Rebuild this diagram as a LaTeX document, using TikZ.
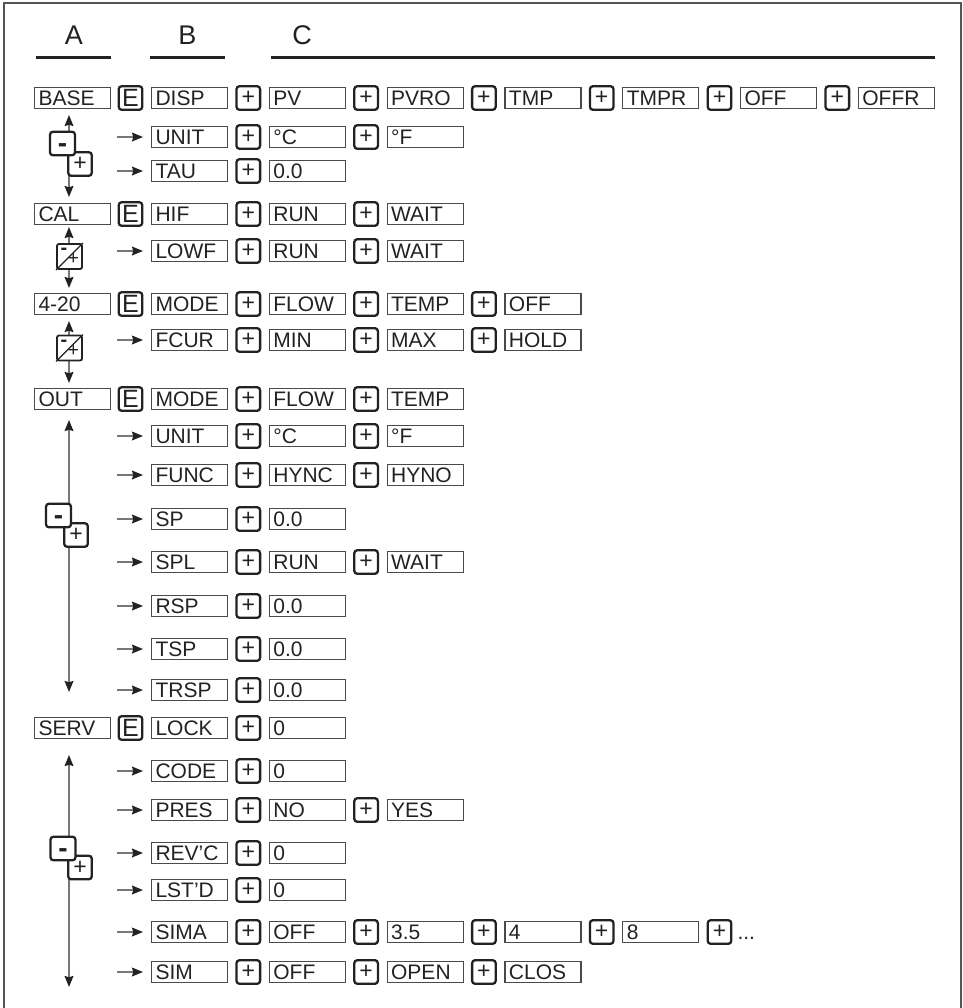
\documentclass[tikz,border=0pt]{standalone}
\usepackage{fontspec}
\setmainfont{Liberation Sans}
\usetikzlibrary{arrows.meta}

\definecolor{inkgray}{HTML}{222222}
\definecolor{framegray}{HTML}{555555}
\definecolor{boxgray}{HTML}{4A4A4A}
\definecolor{wiregray}{HTML}{777777}

\tikzset{
  valbox/.style={draw=boxgray, line width=0.55pt, anchor=west, text width=34pt, align=left,
    inner xsep=2pt, inner ysep=1.5pt, text height=7.5pt, text depth=0pt,
    font=\fontsize{10.5pt}{12pt}\selectfont, text=inkgray},
  pluskey/.style={draw=inkgray, line width=1.15pt, rounded corners=1.5pt, fill=white,
    minimum width=11.8pt, minimum height=11.8pt, inner sep=0pt,
    font=\fontsize{11.5pt}{12pt}\selectfont, text=inkgray},
  ekey/.style={pluskey, font=\fontsize{12.5pt}{12pt}\selectfont},
  minuskey/.style={pluskey, minimum width=12.5pt, text height=8.5pt, text depth=0pt,
    font=\fontsize{14pt}{14pt}\selectfont\bfseries},
  diagkey/.style={draw=inkgray, line width=0.9pt, rounded corners=1pt, fill=white,
    minimum size=12.5pt, inner sep=0pt},
  signtext/.style={inner sep=0pt, text=inkgray},
  tip/.tip={Stealth[length=5.5pt, width=4.4pt, inset=0.6pt, color=inkgray]},
  subarrow/.style={draw=wiregray, line width=0.75pt, -tip},
  navline/.style={draw=wiregray, line width=0.75pt, tip-tip},
  headline/.style={draw=inkgray, line width=1.5pt},
  headtext/.style={font=\fontsize{13.5pt}{14pt}\selectfont, text=inkgray}
}

% boxes of one row, with a plus key between two boxes
\newcommand{\menuitems}[3]{%
  \foreach \txt [count=\i from 0] in {#3} {
    \node[valbox] (#1-\i) at ({151+117.8*\i},#2) {\txt};
    \ifnum\i>0 \node[pluskey] (#1-k\i) at ({130.5+117.8*\i},#2) {+}; \fi
  }
}
% main menu row: menu box, E key, items
\newcommand{\mainrow}[4]{%
  \node[valbox] (#1) at (34,#3) {#2};
  \node[ekey] (#1-e) at (130.5,#3) {E};
  \menuitems{#1}{#3}{#4}
}
% sub row: arrow, items
\newcommand{\subrow}[3]{%
  \coordinate (#1-s) at (117,#2);
  \menuitems{#1}{#2}{#3}
  \draw[subarrow] (#1-s) -- ([xshift=-4pt]#1-0.west);
}

\begin{document}
\begin{tikzpicture}[x=0.5pt, y=-0.5pt]
  \useasboundingbox (0,0) rectangle (963,1008);

  % frame
  \draw[framegray, line width=1pt] (4,1008) -- (4,3) -- (961,3) -- (961,1008);

  % column heads
  \node[headtext] (hA) at (74,35) {A};
  \node[headtext] (hB) at (187.5,35) {B};
  \node[headtext] (hC) at (302,35) {C};
  \draw[headline] (36,57) -- (111,57);
  \draw[headline] (150,57) -- (225,57);
  \draw[headline] (271,57) -- (935,57);

  % up/down lines in column A
  \coordinate (nav1a) at (69,115);  \coordinate (nav1b) at (69,197);
  \coordinate (nav2a) at (69,227);  \coordinate (nav2b) at (69,288);
  \coordinate (nav3a) at (69,321);  \coordinate (nav3b) at (69,383);
  \coordinate (nav4a) at (69,420);  \coordinate (nav4b) at (69,692);
  \coordinate (nav5a) at (69,755);  \coordinate (nav5b) at (69,987);
  \foreach \n in {1,...,5}
    \draw[navline] (nav\n a) -- (nav\n b);

  % minus/plus keys
  \node[pluskey] (basep) at (80,164) {+};
  \node[minuskey] (basem) at (62.5,143.5) {-};
  \node[pluskey] (outp) at (76,535) {+};
  \node[minuskey] (outm) at (58.5,515.5) {-};
  \node[pluskey] (servp) at (80,867.5) {+};
  \node[minuskey] (servm) at (63,848.5) {-};

  % combined keys
  \foreach \k/\y in {calsw/256.5, cursw/348} {
    \node[diagkey] (\k) at (69.5,\y) {};
    \draw[inkgray, line width=0.7pt] (\k.south west) -- (\k.north east);
    \node[signtext, font=\fontsize{10pt}{10pt}\selectfont\bfseries] at ([shift={(-5.5,-5)}]\k.center) {-};
    \node[signtext, font=\fontsize{9.5pt}{10pt}\selectfont] at ([shift={(4,3)}]\k.center) {+};
  }

  % BASE
  \mainrow{base}{BASE}{98}{DISP,PV,PVRO,TMP,TMPR,OFF,OFFR}
  \subrow{bunit}{137}{UNIT,°C,°F}
  \subrow{tau}{171}{TAU,0.0}

  % CAL
  \mainrow{cal}{CAL}{214}{HIF,RUN,WAIT}
  \subrow{lowf}{251}{LOWF,RUN,WAIT}

  % 4-20
  \mainrow{cur}{4-20}{304}{MODE,FLOW,TEMP,OFF}
  \subrow{fcur}{340}{FCUR,MIN,MAX,HOLD}

  % OUT
  \mainrow{out}{OUT}{399}{MODE,FLOW,TEMP}
  \subrow{ounit}{436}{UNIT,°C,°F}
  \subrow{func}{475}{FUNC,HYNC,HYNO}
  \subrow{sp}{519}{SP,0.0}
  \subrow{spl}{562}{SPL,RUN,WAIT}
  \subrow{rsp}{606}{RSP,0.0}
  \subrow{tsp}{649}{TSP,0.0}
  \subrow{trsp}{690}{TRSP,0.0}

  % SERV
  \mainrow{serv}{SERV}{728}{LOCK,0}
  \subrow{code}{771}{CODE,0}
  \subrow{pres}{810}{PRES,NO,YES}
  \subrow{revc}{853}{REV’C,0}
  \subrow{lstd}{890}{LST’D,0}
  \subrow{sima}{932}{SIMA,OFF,3.5,4,8}
  \node[pluskey] (sima-k5) at ({130.5+117.8*5},932) {+};
  \node[valbox, draw=none, text width=12pt] (sima-dots) at (733,932) {...};
  \subrow{sim}{972}{SIM,OFF,OPEN,CLOS}
\end{tikzpicture}
\end{document}
